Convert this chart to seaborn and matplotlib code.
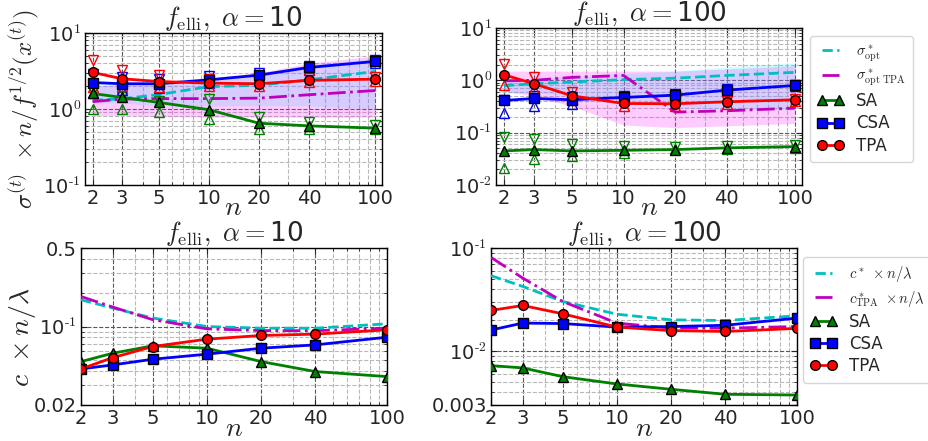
import matplotlib
matplotlib.use("Agg")
import matplotlib.pyplot as plt
import seaborn as sns
from matplotlib.ticker import FixedLocator, FixedFormatter, NullFormatter, LogLocator

# ---------------- data ----------------
n_vals = [2, 3, 5, 10, 20, 40, 100]
n_labels = ["2", "3", "5", "10", "20", "40", "100"]

# top-left: sigma, alpha=10
sa_s10 = [1.60, 1.42, 1.22, 0.98, 0.65, 0.60, 0.56]
sa_s10_hi = [1.75, 1.45, 1.29, 1.36, 0.78, 0.67, 0.61]
sa_s10_lo = [1.00, 1.00, 0.90, 0.74, 0.54, 0.54, 0.54]
csa_s10 = [2.23, 2.15, 2.15, 2.42, 2.79, 3.52, 4.23]
csa_s10_hi = [2.90, 2.60, 2.50, 2.70, 3.00, 3.70, 4.40]
csa_s10_lo = [1.60, 1.80, 1.90, 2.20, 2.60, 3.30, 4.00]
tpa_s10 = [3.03, 2.50, 2.30, 2.19, 2.15, 2.38, 2.47]
tpa_s10_hi = [4.36, 3.22, 2.77, 2.45, 2.35, 2.55, 2.60]
tpa_s10_lo = [1.92, 2.02, 1.92, 2.00, 2.00, 2.25, 2.35]
opt_s10 = [1.30, 1.36, 1.55, 1.97, 2.05, 2.42, 3.12]
opt_tpa_s10 = [1.25, 1.35, 1.37, 1.37, 1.39, 1.54, 1.75]
opt_s10_band_lo = [1.20, 1.20, 1.10, 1.10, 1.10, 1.10, 1.00]
opt_s10_band_hi = [2.20, 2.20, 2.20, 2.50, 2.90, 3.80, 4.70]
opt_tpa_s10_band_lo = [0.82, 0.82, 0.80, 0.78, 0.78, 0.78, 0.78]
opt_tpa_s10_band_hi = [2.00, 2.10, 2.20, 2.50, 3.00, 4.00, 5.00]

# top-right: sigma, alpha=100
sa_s100 = [0.0448, 0.0475, 0.0448, 0.0460, 0.0475, 0.0512, 0.0542]
sa_s100_hi = [0.082, 0.076, 0.061, 0.0565, 0.0528, 0.056, 0.059]
sa_s100_lo = [0.0214, 0.031, 0.0359, 0.0417, 0.048, 0.049, 0.051]
csa_s100 = [0.412, 0.450, 0.425, 0.471, 0.521, 0.650, 0.798]
csa_s100_hi = [0.43, 0.50, 0.47, 0.50, 0.55, 0.68, 0.83]
csa_s100_lo = [0.24, 0.33, 0.35, 0.43, 0.49, 0.62, 0.77]
tpa_s100 = [1.28, 0.86, 0.506, 0.361, 0.357, 0.389, 0.425]
tpa_s100_hi = [2.05, 1.16, 0.60, 0.40, 0.38, 0.41, 0.44]
tpa_s100_lo = [0.80, 0.68, 0.44, 0.33, 0.33, 0.36, 0.40]
opt_s100 = [0.79, 0.86, 0.93, 1.03, 1.10, 1.24, 1.42]
opt_tpa_s100 = [0.98, 1.00, 1.14, 1.24, 0.247, 0.262, 0.294]
opt_s100_band_lo = [0.57, 0.58, 0.50, 0.42, 0.30, 0.28, 0.27]
opt_s100_band_hi = [0.95, 1.10, 1.20, 1.35, 1.50, 1.80, 2.15]
opt_tpa_s100_band_lo = [0.62, 0.50, 0.32, 0.14, 0.125, 0.135, 0.15]
opt_tpa_s100_band_hi = [1.50, 1.50, 1.50, 1.50, 1.50, 1.65, 1.90]

# bottom-left: progress rate, alpha=10
sa_c10 = [0.0487, 0.0578, 0.0673, 0.0641, 0.0487, 0.0397, 0.0358]
csa_c10 = [0.0419, 0.0455, 0.0511, 0.0567, 0.0641, 0.0686, 0.0803]
tpa_c10 = [0.0419, 0.0528, 0.0663, 0.0771, 0.0832, 0.0855, 0.0934]
opt_c10 = [0.173, 0.146, 0.119, 0.100, 0.0966, 0.0966, 0.1057]
opt_tpa_c10 = [0.185, 0.149, 0.115, 0.0953, 0.0920, 0.0917, 0.0966]

# bottom-right: progress rate, alpha=100
sa_c100 = [0.00723, 0.00687, 0.00565, 0.00480, 0.00426, 0.00381, 0.00375]
csa_c100 = [0.0160, 0.0187, 0.0185, 0.0171, 0.0173, 0.0178, 0.0209]
tpa_c100 = [0.0248, 0.0277, 0.0230, 0.0171, 0.0158, 0.0155, 0.0166]
opt_c100 = [0.0539, 0.0424, 0.0303, 0.0228, 0.0201, 0.0198, 0.0220]
opt_tpa_c100 = [0.0811, 0.0511, 0.0303, 0.0187, 0.0167, 0.0167, 0.0173]

# ---------------- style ----------------
sns.set_style("white")
plt.rcParams.update({
    "mathtext.fontset": "cm",
    "axes.unicode_minus": False,
    "axes.edgecolor": "black",
    "axes.linewidth": 1.0,
})
plt.rcParams["font.family"] = ["DejaVu Sans"]

fig = plt.figure(figsize=(9.29, 4.41), dpi=100)
W, H = 929.0, 441.0


def add_ax(x0, y0, x1, y1):
    return fig.add_axes([x0 / W, 1 - y1 / H, (x1 - x0) / W, (y1 - y0) / H])


ax_tl = add_ax(85, 33, 382, 185)
ax_tr = add_ax(496, 28, 802, 185)
ax_bl = add_ax(81, 248, 387, 405)
ax_br = add_ax(491, 248, 797, 405)

GREEN, BLUE, RED, CYAN, MAG = "#008000", "#0000ff", "#ff0000", "#00bfbf", "#bf00bf"
MS = 7
TITLE_FS = 19


def style_axes(ax, xlim, ylim, yticks, ylabels):
    ax.set_xscale("log")
    ax.set_yscale("log")
    ax.set_xlim(*xlim)
    ax.set_ylim(*ylim)
    ax.xaxis.set_major_locator(FixedLocator(n_vals))
    ax.xaxis.set_major_formatter(FixedFormatter(n_labels))
    ax.xaxis.set_minor_locator(LogLocator(base=10, subs=range(2, 10)))
    ax.xaxis.set_minor_formatter(NullFormatter())
    ax.yaxis.set_major_locator(FixedLocator(yticks))
    ax.yaxis.set_major_formatter(FixedFormatter(ylabels))
    ax.yaxis.set_minor_locator(LogLocator(base=10, subs=range(2, 10)))
    ax.yaxis.set_minor_formatter(NullFormatter())
    ax.grid(True, which="major", ls="--", color="0.35", lw=0.8)
    ax.grid(True, which="minor", ls="--", color="0.72", lw=0.8)
    ax.tick_params(which="both", direction="in", top=True, right=True,
                   bottom=True, left=True, labelsize=14, pad=3)
    ax.tick_params(which="major", length=4)
    ax.tick_params(which="minor", length=2)
    for s in ax.spines.values():
        s.set_visible(True)
        s.set_color("black")
    ax.set_axisbelow(True)


def p10(e):
    return r"$\mathdefault{10^{\text{" + e + r"}}}$"


def draw_lines(ax, a, b, sa, csa, tpa, la, lb):
    sns.lineplot(x=n_vals, y=a, ax=ax, color=CYAN, lw=2,
                 linestyle="--", label=la, legend=False, zorder=3)
    sns.lineplot(x=n_vals, y=b, ax=ax, color=MAG, lw=2,
                 linestyle="-.", label=lb, legend=False, zorder=3)
    for y, c, m, lab in [(sa, GREEN, "^", "SA"), (csa, BLUE, "s", "CSA"),
                         (tpa, RED, "o", "TPA")]:
        sns.lineplot(x=n_vals, y=y, ax=ax, color=c, lw=2, marker=m,
                     markersize=MS, markeredgecolor="k", markeredgewidth=1,
                     markerfacecolor=c, label=lab, legend=False, zorder=5)


def draw_err(ax, hi, lo, c):
    sns.lineplot(x=n_vals, y=hi, ax=ax, linestyle="", marker="v", markersize=6.5,
                 markerfacecolor="none", markeredgecolor=c, markeredgewidth=1,
                 legend=False, zorder=4)
    sns.lineplot(x=n_vals, y=lo, ax=ax, linestyle="", marker="^", markersize=6.5,
                 markerfacecolor="none", markeredgecolor=c, markeredgewidth=1,
                 legend=False, zorder=4)


def bands(ax, c_lo, c_hi, m_lo, m_hi):
    ax.fill_between(n_vals, c_lo, c_hi, color="cyan", alpha=0.2, lw=0, zorder=1)
    ax.fill_between(n_vals, m_lo, m_hi, color="magenta", alpha=0.2, lw=0, zorder=1)


def add_legend(ax, x, y):
    h, l = ax.get_legend_handles_labels()
    leg = fig.legend(h[:5], l[:5], loc="upper left", bbox_to_anchor=(x / W, 1 - y / H),
                     numpoints=2, fontsize=12, handlelength=1.6, borderaxespad=0,
                     handletextpad=0.7, labelspacing=0.25, borderpad=0.45,
                     frameon=True, fancybox=True, edgecolor="0.8")
    for t in leg.get_texts():
        if t.get_text().startswith("$"):
            t.set_fontsize(10.5)
    return leg


sig_lab = r"$\sigma^*_\mathrm{opt}$"
sig_tpa_lab = r"$\sigma^*_\mathrm{opt\ TPA}$"
c_lab = r"$c^*\ \times n/\lambda$"
c_tpa_lab = r"$c^*_\mathrm{TPA}\ \times n/\lambda$"

# ---------- top-left ----------
ax = ax_tl
bands(ax, opt_s10_band_lo, opt_s10_band_hi, opt_tpa_s10_band_lo, opt_tpa_s10_band_hi)
draw_lines(ax, opt_s10, opt_tpa_s10, sa_s10, csa_s10, tpa_s10, sig_lab, sig_tpa_lab)
draw_err(ax, sa_s10_hi, sa_s10_lo, GREEN)
draw_err(ax, csa_s10_hi, csa_s10_lo, BLUE)
draw_err(ax, tpa_s10_hi, tpa_s10_lo, RED)
style_axes(ax, (1.8, 110), (0.1, 10), [0.1, 1, 10], [p10("-1"), p10("0"), p10("1")])
ax.set_title(r"$f_\mathrm{elli},\ \alpha=$10", fontsize=TITLE_FS, pad=2)
ax.set_ylabel(r"$\sigma^{(t)}\ \times n/f^{1/2}(x^{(t)})$", fontsize=18)
ax.yaxis.set_label_coords(-0.145, 0.5)
ax.set_xlabel(r"$n$", fontsize=20)
ax.xaxis.set_label_coords(0.5, -0.05)

# ---------- top-right ----------
ax = ax_tr
bands(ax, opt_s100_band_lo, opt_s100_band_hi, opt_tpa_s100_band_lo, opt_tpa_s100_band_hi)
draw_lines(ax, opt_s100, opt_tpa_s100, sa_s100, csa_s100, tpa_s100, sig_lab, sig_tpa_lab)
draw_err(ax, sa_s100_hi, sa_s100_lo, GREEN)
draw_err(ax, csa_s100_hi, csa_s100_lo, BLUE)
draw_err(ax, tpa_s100_hi, tpa_s100_lo, RED)
style_axes(ax, (1.8, 110), (0.01, 10), [0.01, 0.1, 1, 10],
           [p10("-2"), p10("-1"), p10("0"), p10("1")])
ax.set_title(r"$f_\mathrm{elli},\ \alpha=$100", fontsize=TITLE_FS, pad=2)
ax.set_xlabel(r"$n$", fontsize=20)
ax.xaxis.set_label_coords(0.5, -0.05)
add_legend(ax, 810, 36)

# ---------- bottom-left ----------
ax = ax_bl
draw_lines(ax, opt_c10, opt_tpa_c10, sa_c10, csa_c10, tpa_c10, c_lab, c_tpa_lab)
style_axes(ax, (2, 100), (0.02, 0.5), [0.02, 0.1, 0.5],
           ["0.02", p10("-1"), "0.5"])
ax.set_title(r"$f_\mathrm{elli},\ \alpha=$10", fontsize=TITLE_FS, pad=2)
ax.set_ylabel(r"$c\ \times n/\lambda$", fontsize=20)
ax.yaxis.set_label_coords(-0.14, 0.43)
ax.set_xlabel(r"$n$", fontsize=20)
ax.xaxis.set_label_coords(0.5, -0.06)

# ---------- bottom-right ----------
ax = ax_br
draw_lines(ax, opt_c100, opt_tpa_c100, sa_c100, csa_c100, tpa_c100, c_lab, c_tpa_lab)
style_axes(ax, (2, 100), (0.003, 0.1), [0.003, 0.01, 0.1],
           ["0.003", p10("-2"), p10("-1")])
ax.set_title(r"$f_\mathrm{elli},\ \alpha=$100", fontsize=TITLE_FS, pad=2)
ax.set_xlabel(r"$n$", fontsize=20)
ax.xaxis.set_label_coords(0.5, -0.06)
add_legend(ax, 803, 257)

fig.savefig("out.png", dpi=100)
